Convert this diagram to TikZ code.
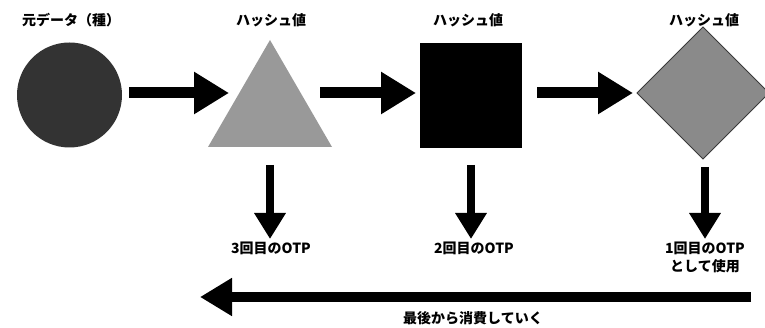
\documentclass[tikz,border=0pt]{standalone}
\usepackage{fontspec}
\newfontfamily\jp{Noto Sans CJK JP}
\usetikzlibrary{arrows.meta,shapes.geometric}
\definecolor{seedc}{HTML}{333333}
\definecolor{tric}{HTML}{999999}
\definecolor{diac}{HTML}{8A8A8A}
\definecolor{diab}{HTML}{3A3A3A}
\tikzset{
  lbl/.style={font=\jp\bfseries\fontsize{14}{16}\selectfont, inner sep=0pt, align=center},
  hbar/.style={line width=11pt, -{Triangle[length=35pt,width=40pt]}},
  vbar/.style={line width=8pt, -{Triangle[length=26pt,width=30pt]}},
  bbar/.style={line width=10pt, -{Triangle[length=32pt,width=36pt]}},
}
\begin{document}
\begin{tikzpicture}[x=1pt,y=-1pt]
\useasboundingbox (0,0) rectangle (765,328);
% shapes
\node[circle, fill=seedc, minimum size=105pt, inner sep=0pt] (seed) at (69.5,95) {};
\path[fill=tric] (270,40) -- (332,147) -- (208,147) -- cycle;
\coordinate (tri) at (270,111);
\node[rectangle, fill=black, minimum width=102pt, minimum height=105pt, inner sep=0pt] (sq) at (471,95.5) {};
\path[fill=diac, draw=diab, line width=0.8pt] (637,93) -- (703,27) -- (769,93) -- (703,159) -- cycle;
\coordinate (dia) at (703,93);
% top labels
\node[lbl] (l0) at (71,20) {元データ（種）};
\node[lbl] (l1) at (271,20) {ハッシュ値};
\node[lbl] (l2) at (468,20) {ハッシュ値};
\node[lbl] (l3) at (704,20) {ハッシュ値};
% horizontal arrows
\coordinate (a1e) at (229,93);
\coordinate (a2s) at (320,93);
\coordinate (a2e) at (416,93);
\coordinate (a3s) at (537,93);
\coordinate (a3e) at (633,93);
\draw[hbar] ([xshift=7pt]seed.east |- a1e) -- (a1e);
\draw[hbar] (a2s) -- (a2e);
\draw[hbar] (a3s) -- (a3e);
% down arrows
\coordinate (d1s) at (270,165); \coordinate (d1e) at (270,239);
\coordinate (d2s) at (471,165); \coordinate (d2e) at (471,239);
\coordinate (d3s) at (705,167); \coordinate (d3e) at (705,239);
\draw[vbar] (d1s) -- (d1e);
\draw[vbar] (d2s) -- (d2e);
\draw[vbar] (d3s) -- (d3e);
% OTP labels
\node[lbl] (o1) at (271,248) {3回目のOTP};
\node[lbl] (o2) at (474,248) {2回目のOTP};
\node[lbl, font=\jp\bfseries\fontsize{14}{18}\selectfont] (o3) at (705,257) {1回目のOTP\\として使用};
% bottom arrow
\coordinate (bs) at (751,297);
\coordinate (be) at (200,297);
\draw[bbar] (bs) -- (be);
\node[lbl] (bt) at (473,318) {最後から消費していく};
\end{tikzpicture}
\end{document}
